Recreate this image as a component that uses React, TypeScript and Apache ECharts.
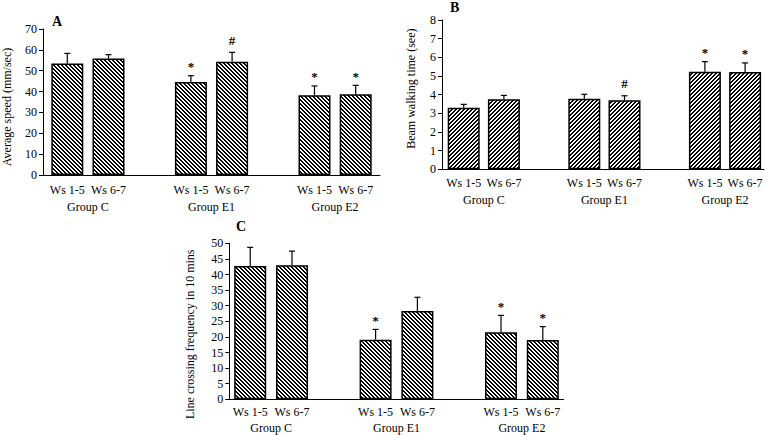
import React, { useEffect, useRef } from 'react';
import * as echarts from 'echarts';

// ---- data ----
const weekLabels = ['Ws 1-5', 'Ws 6-7', 'Ws 1-5', 'Ws 6-7', 'Ws 1-5', 'Ws 6-7'];
const groupNames = ['Group C', 'Group E1', 'Group E2'];
const barPositions = [0, 1, 3, 4, 6, 7];
const groupPositions = [0.5, 3.5, 6.5];

const speedMeans = [53.5, 55.8, 44.6, 54.3, 38.2, 38.7];
const speedErrors = [4.8, 1.9, 3.0, 4.5, 4.5, 4.3];
const speedMarks = ['', '', '*', '#', '*', '*'];

const beamMeans = [3.3, 3.75, 3.78, 3.7, 5.23, 5.21];
const beamErrors = [0.18, 0.21, 0.24, 0.24, 0.54, 0.49];
const beamMarks = ['', '', '', '#', '*', '*'];

const crossMeans = [42.7, 43.0, 19.1, 28.3, 21.5, 19.0];
const crossErrors = [6.0, 4.5, 3.3, 4.4, 5.4, 4.3];
const crossMarks = ['', '', '*', '', '*', '*'];

const FONT = "'Liberation Serif', 'Times New Roman', serif";

function hatchCanvas(dir: number) {
  const c = document.createElement('canvas');
  c.width = 4;
  c.height = 4;
  const ctx = c.getContext('2d')!;
  ctx.fillStyle = '#fff';
  ctx.fillRect(0, 0, 4, 4);
  ctx.fillStyle = '#000';
  for (let y = 0; y < 4; y++) {
    for (let x = 0; x < 4; x++) {
      const k = (((dir > 0 ? x + y : x - y) % 4) + 4) % 4;
      if (k === 0 || k === 1) ctx.fillRect(x, y, 1, 1);
    }
  }
  return c;
}

type Panel = {
  letter: string;
  letterX: number;
  letterY: number;
  yName: string;
  yMax: number;
  yInterval: number;
  means: number[];
  errors: number[];
  marks: string[];
  grid: { left: number; top: number; width: number; height: number };
  xMin: number;
  xMax: number;
  nameGap: number;
  namePad: number[];
  labelMargin: number;
  groupOffset: number;
  hatch: number;
};

const panels: Panel[] = [
  {
    letter: 'A', letterX: 52, letterY: 14, yName: 'Average speed (mm/sec)', yMax: 70, yInterval: 10,
    means: speedMeans, errors: speedErrors, marks: speedMarks,
    grid: { left: 40.7, top: 29, width: 339.3, height: 146 }, xMin: -0.59, xMax: 7.59,
    nameGap: 30, namePad: [0, 10, 0, 0], labelMargin: 9, groupOffset: 17, hatch: -1,
  },
  {
    letter: 'B', letterX: 450, letterY: 0, yName: 'Beam walking time (see)', yMax: 8, yInterval: 1,
    means: beamMeans, errors: beamErrors, marks: beamMarks,
    grid: { left: 442, top: 20, width: 322, height: 149.3 }, xMin: -0.54, xMax: 7.47,
    nameGap: 25, namePad: [0, 0, 0, 12], labelMargin: 8, groupOffset: 17, hatch: 1,
  },
  {
    letter: 'C', letterX: 236, letterY: 219, yName: 'Line crossing frequency in 10 mins', yMax: 50, yInterval: 5,
    means: crossMeans, errors: crossErrors, marks: crossMarks,
    grid: { left: 229.3, top: 243.3, width: 334.4, height: 156 }, xMin: -0.5, xMax: 7.5,
    nameGap: 33, namePad: [0, 26, 0, 0], labelMargin: 7, groupOffset: 15.5, hatch: -1,
  },
];

function buildOption() {
  const grid: any[] = [];
  const xAxis: any[] = [];
  const yAxis: any[] = [];
  const series: any[] = [];
  const title: any[] = [];
  const axisLine = { show: true, onZero: false, lineStyle: { color: '#000', width: 1 } };

  panels.forEach((p, i) => {
    grid.push({ ...p.grid, containLabel: false });
    title.push({
      text: p.letter, left: p.letterX, top: p.letterY, padding: 0,
      textStyle: { fontFamily: FONT, fontWeight: 'bold', fontSize: 14, color: '#000' },
    });
    xAxis.push({
      type: 'value', gridIndex: i, min: p.xMin, max: p.xMax, position: 'bottom',
      axisLine, axisTick: { show: false }, splitLine: { show: false },
      axisLabel: {
        customValues: barPositions, margin: p.labelMargin, color: '#000', fontFamily: FONT, fontSize: 12,
        formatter: (v: number) => weekLabels[barPositions.indexOf(v)] ?? '',
      },
    });
    xAxis.push({
      type: 'value', gridIndex: i, min: p.xMin, max: p.xMax, position: 'bottom', offset: p.groupOffset,
      axisLine: { show: false, onZero: false }, axisTick: { show: false }, splitLine: { show: false },
      axisLabel: {
        customValues: groupPositions, margin: p.labelMargin, color: '#000', fontFamily: FONT, fontSize: 12,
        formatter: (v: number) => groupNames[groupPositions.indexOf(v)] ?? '',
      },
    });
    yAxis.push({
      type: 'value', gridIndex: i, min: 0, max: p.yMax, interval: p.yInterval,
      name: p.yName, nameLocation: 'middle', nameGap: p.nameGap,
      nameTextStyle: { fontFamily: FONT, fontSize: 12, color: '#000', padding: p.namePad },
      axisLine, axisTick: { show: true, length: 4, lineStyle: { color: '#000' } },
      splitLine: { show: false },
      axisLabel: { margin: 6, color: '#000', fontFamily: FONT, fontSize: 12 },
    });
    const data = p.means.map((m, k) => [barPositions[k], m, p.errors[k]]);
    series.push({
      type: 'bar', xAxisIndex: i * 2, yAxisIndex: i, barWidth: 32,
      data: data.map((d) => [d[0], d[1]]),
      itemStyle: {
        color: { image: hatchCanvas(p.hatch), repeat: 'repeat', imageWidth: 4, imageHeight: 4 },
        borderColor: '#000', borderWidth: 1.5,
      },
    });
    const marks = p.marks;
    series.push({
      type: 'custom', xAxisIndex: i * 2, yAxisIndex: i, z: 5,
      data,
      encode: { x: 0, y: 1 },
      renderItem: (params: any, api: any) => {
        const x = api.value(0);
        const m = api.value(1);
        const e = api.value(2);
        const top = api.coord([x, m]);
        const hi = api.coord([x, m + e]);
        const st = { stroke: '#000', lineWidth: 1.2 };
        const children: any[] = [
          { type: 'line', shape: { x1: top[0], y1: top[1], x2: hi[0], y2: hi[1] }, style: st },
          { type: 'line', shape: { x1: hi[0] - 3, y1: hi[1], x2: hi[0] + 3, y2: hi[1] }, style: st },
        ];
        const mark = marks[params.dataIndex];
        if (mark) {
          children.push({
            type: 'text',
            style: {
              text: mark, x: hi[0], y: hi[1] - (mark === '*' ? 9 : 12), align: 'center', verticalAlign: 'middle',
              fontFamily: FONT, fontWeight: 'bold', fontSize: 13, fill: '#000',
            },
          });
        }
        return { type: 'group', children };
      },
    });
  });

  return { animation: false, backgroundColor: '#fff', title, grid, xAxis, yAxis, series };
}

export default function App() {
  const ref = useRef<HTMLDivElement>(null);
  useEffect(() => {
    if (!ref.current) return;
    const chart = echarts.init(ref.current, undefined, { renderer: 'svg' });
    chart.setOption(buildOption() as any);
    return () => chart.dispose();
  }, []);
  return <div ref={ref} style={{ position: 'fixed', left: 0, top: 0, width: 771, height: 435 }} />;
}
